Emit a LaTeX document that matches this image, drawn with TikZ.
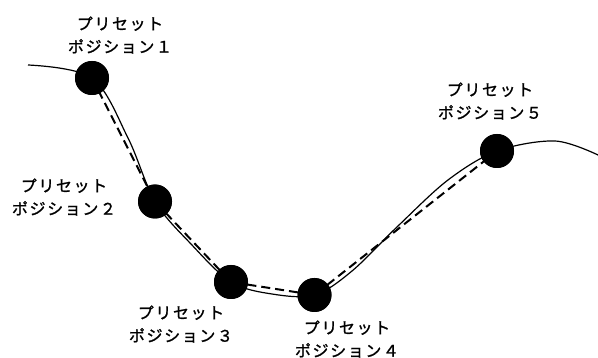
\documentclass[tikz,border=0pt]{standalone}
\usepackage{fontspec}
\newfontfamily\jpfont[LetterSpace=10,FakeBold=1.2]{Noto Sans CJK JP}
\begin{document}
\begin{tikzpicture}[x=1pt,y=-1pt,
  preset/.style={circle,fill=black,inner sep=0pt,minimum size=34pt},
  lbl/.style={align=center,font=\jpfont\fontsize{16}{23}\selectfont,inner sep=0pt},
  path/.style={line width=1.2pt},
  link/.style={line width=2pt,dash pattern=on 9pt off 5pt}]
\useasboundingbox (0,0) rectangle (598,358);
\coordinate (s) at (28,65);
\coordinate (e) at (598,155);
\node[preset] (p1) at (92,78) {};
\node[preset] (p2) at (155,201.5) {};
\node[preset] (p3) at (231,282) {};
\node[preset] (p4) at (314.5,295) {};
\node[preset] (p5) at (497,151) {};
\draw[link] (p1.center) -- (p2.center) -- (p3.center) -- (p4.center) -- (p5.center);
\draw[path] plot[smooth,tension=0.55] coordinates {(28,65) (92,78) (128,138) (155,201.5) (191,244) (231,282) (272,294) (314.5,295) (352,271) (398,226) (448,180) (497,151) (555,141) (598,155)};
\node[preset] at (p1) {};
\node[preset] at (p2) {};
\node[preset] at (p3) {};
\node[preset] at (p4) {};
\node[preset] at (p5) {};
\node[lbl] (l1) at (120,35) {プリセット\\ポジション１};
\node[lbl] (l2) at (64,197) {プリセット\\ポジション２};
\node[lbl] (l3) at (181,324) {プリセット\\ポジション３};
\node[lbl] (l4) at (347,339) {プリセット\\ポジション４};
\node[lbl] (l5) at (490,101) {プリセット\\ポジション５};
\end{tikzpicture}
\end{document}
